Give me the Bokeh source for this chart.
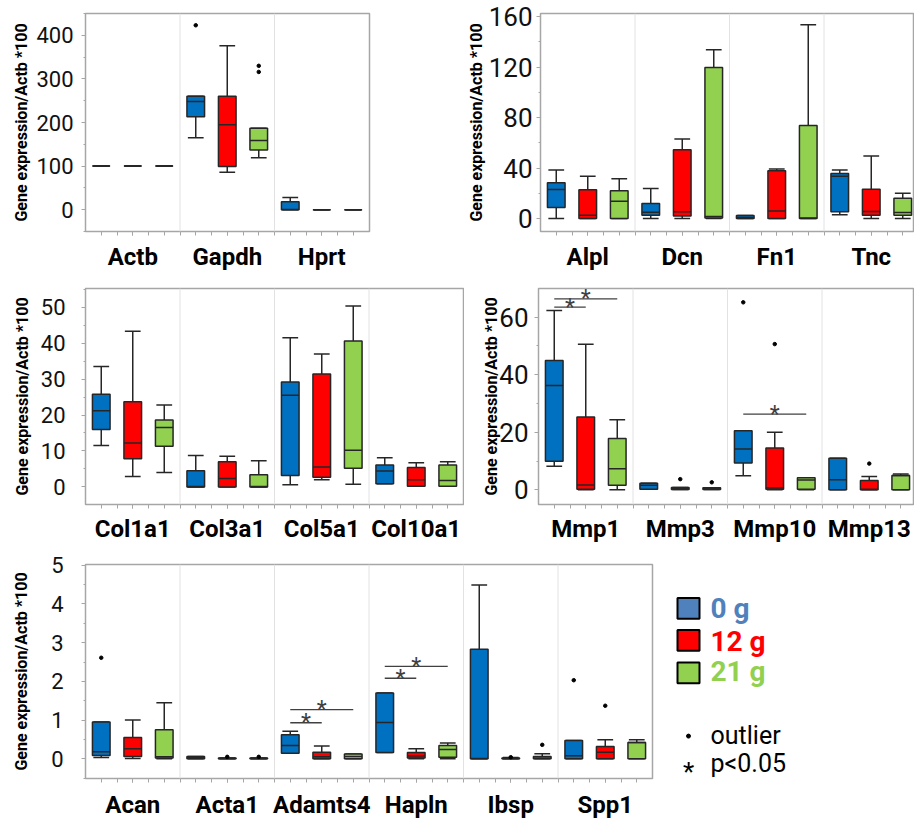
from bokeh.plotting import figure
from bokeh.models import Range1d, FixedTicker, Span, ColumnDataSource
from bokeh.layouts import row, column
from bokeh.embed import file_html
from bokeh.resources import INLINE
from bokeh.core.properties import value

FONT = "Roboto"
GROUPS = ["0 g", "12 g", "21 g"]
BOX_COLORS = ["#0070C0", "#FF0000", "#92D050"]
LEGEND_FILL = ["#4F81BD", "#FF0000", "#92D050"]
LEGEND_TEXT = ["#4F81BD", "#FF0000", "#92D050"]
Y_TITLE = "Gene expression/Actb *100"

# ---------------- panel 1 ----------------
P1_GENES = ["Actb", "Gapdh", "Hprt"]
P1_Q1 = [100, 100, 100, 213, 99, 137, 0, 0, 0]
P1_MED = [100, 100, 100, 248, 195, 159, 0.5, 0, 0]
P1_Q3 = [100, 100, 100, 260, 260, 187, 18, 0, 0]
P1_LO = [100, 100, 100, 165, 86, 119, 0, 0, 0]
P1_HI = [100, 100, 100, 260, 376, 187, 28, 0, 0]
P1_OUT_IDX = [3, 5, 5]
P1_OUT_VAL = [423, 330, 316]

# ---------------- panel 2 ----------------
P2_GENES = ["Alpl", "Dcn", "Fn1", "Tnc"]
P2_Q1 = [8.7, 0, 0, 2.6, 2.0, 0.3, 0, 0, 0, 5.3, 2.6, 2.6]
P2_MED = [23, 2.6, 13.7, 5.0, 5.3, 1.6, 0.8, 6.0, 0.3, 33.5, 5.5, 4.8]
P2_Q3 = [28.3, 22.7, 21.9, 11.9, 54.4, 119.6, 2.4, 37.8, 73.7, 35.6, 23.2, 16.1]
P2_LO = [0, 0, 0, 0, 0, 0, 0, 0, 0, 2.9, 0, 0]
P2_HI = [38.5, 33.5, 31.4, 23.8, 63.0, 133.6, 2.4, 39.3, 153.4, 38.5, 49.6, 20.0]

# ---------------- panel 3 ----------------
P3_GENES = ["Col1a1", "Col3a1", "Col5a1", "Col10a1"]
P3_Q1 = [16.0, 7.8, 11.3, 0, 0, 0, 3.2, 2.7, 5.2, 0.9, 0.2, 0.2]
P3_MED = [21.2, 12.2, 16.5, 0.1, 2.3, 0.1, 25.5, 5.5, 10.2, 4.4, 2.0, 1.8]
P3_Q3 = [25.8, 23.7, 18.6, 4.5, 7.0, 3.4, 29.2, 31.4, 40.6, 6.1, 5.4, 6.1]
P3_LO = [11.5, 2.9, 4.0, 0, 0, 0, 0.6, 2.0, 0.7, 0.9, 0.2, 0.2]
P3_HI = [33.5, 43.3, 22.8, 8.7, 8.5, 7.3, 41.5, 37.0, 50.3, 8.1, 6.7, 7.0]

# ---------------- panel 4 ----------------
P4_GENES = ["Mmp1", "Mmp3", "Mmp10", "Mmp13"]
P4_Q1 = [9.9, 0.2, 1.6, 0.2, 0.1, 0.1, 9.3, 0.2, 0.2, 0, 0, 0]
P4_MED = [36.2, 1.7, 7.3, 1.6, 0.5, 0.5, 14.2, 0.6, 3.4, 3.5, 0.2, 5.0]
P4_Q3 = [44.9, 25.3, 17.8, 2.3, 0.8, 0.7, 20.5, 14.5, 4.2, 11.0, 3.2, 5.0]
P4_LO = [8.2, 0, 0, 0.2, 0.1, 0.1, 4.9, 0, 0, 0, 0, 0]
P4_HI = [62.3, 50.5, 24.3, 2.3, 0.8, 0.7, 20.5, 20.0, 4.2, 11.0, 4.6, 5.5]
P4_OUT_IDX = [4, 5, 6, 7, 10]
P4_OUT_VAL = [3.7, 2.6, 65.1, 50.6, 9.1]
P4_SIG_FROM = [0, 0, 6]
P4_SIG_TO = [1, 2, 8]
P4_SIG_Y = [63.4, 66.3, 26.3]

# ---------------- panel 5 ----------------
P5_GENES = ["Acan", "Acta1", "Adamts4", "Hapln", "Ibsp", "Spp1"]
P5_Q1 = [0.085, 0.06, 0.02, 0, 0, 0, 0.145, 0, 0, 0.16, 0.02, 0.04, 0, 0, 0, 0, 0, 0]
P5_MED = [0.18, 0.26, 0.05, 0.03, 0.01, 0.01, 0.34, 0.05, 0.06, 0.94, 0.07, 0.24, 0.01, 0.01, 0.02, 0.08, 0.17, 0.42]
P5_Q3 = [0.95, 0.55, 0.75, 0.06, 0.02, 0.02, 0.62, 0.17, 0.12, 1.70, 0.16, 0.34, 2.83, 0.02, 0.06, 0.47, 0.32, 0.42]
P5_LO = [0.03, 0.01, 0, 0, 0, 0, 0.145, 0, 0, 0.16, 0, 0, 0, 0, 0, 0, 0, 0]
P5_HI = [0.95, 1.0, 1.45, 0.06, 0.02, 0.02, 0.71, 0.33, 0.12, 1.70, 0.26, 0.41, 4.49, 0.03, 0.13, 0.47, 0.49, 0.49]
P5_OUT_IDX = [0, 4, 5, 13, 14, 15, 16]
P5_OUT_VAL = [2.61, 0.05, 0.05, 0.04, 0.36, 2.03, 1.37]
P5_SIG_FROM = [6, 6, 9, 9]
P5_SIG_TO = [7, 8, 10, 11]
P5_SIG_Y = [0.93, 1.27, 2.08, 2.39]

UNIT_PX = 31.5
DARK = "#262626"
GRAY = "#a6a6a6"


def panel(genes, q1, med, q3, lo, hi, out_idx, out_val, yr, major, minor,
          width, height, bl, bt, bb, br, tick_fs, ystand, tstand, xstand,
          sig_from=(), sig_to=(), sig_y=()):
    n = len(q1)
    frame_w = width - bl - br
    p = figure(width=width, height=height,
               x_range=Range1d(0, frame_w / UNIT_PX), y_range=Range1d(*yr),
               toolbar_location=None, output_backend="svg",
               min_border_left=bl, min_border_right=br,
               min_border_top=bt, min_border_bottom=bb)
    p.grid.visible = False
    p.outline_line_color = GRAY
    p.outline_line_width = 1.5
    p.background_fill_color = "white"
    p.border_fill_color = "white"
    x = [i + 0.5 for i in range(n)]
    colors = [BOX_COLORS[i % 3] for i in range(n)]
    for k in range(1, len(genes)):
        p.add_layout(Span(location=3 * k, dimension="height",
                          line_color="#e2e2e2", line_width=1))
    src = ColumnDataSource(dict(
        x=x, q1=q1, med=med, q3=q3, lo=lo, hi=hi, color=colors,
        left=[v - 0.28 for v in x], right=[v + 0.28 for v in x],
        cl=[v - 0.25 for v in x], cr=[v + 0.25 for v in x]))
    kw = dict(source=src, line_color=DARK, line_width=1.5)
    p.segment(x0="x", y0="q3", x1="x", y1="hi", **kw)
    p.segment(x0="x", y0="lo", x1="x", y1="q1", **kw)
    p.segment(x0="cl", y0="hi", x1="cr", y1="hi", **kw)
    p.segment(x0="cl", y0="lo", x1="cr", y1="lo", **kw)
    p.quad(left="left", right="right", bottom="q1", top="q3",
           fill_color="color", **kw)
    p.segment(x0="left", y0="med", x1="right", y1="med", **kw)
    if out_idx:
        p.scatter(x=[x[i] for i in out_idx], y=out_val, size=3.5,
                  color="black")
    if sig_from:
        x0 = [x[i] for i in sig_from]
        x1 = [x[j] for j in sig_to]
        p.segment(x0=x0, y0=sig_y, x1=x1, y1=sig_y, line_color="#404040",
                  line_width=1.3)
        p.text(x=[(a + b) / 2 for a, b in zip(x0, x1)], y=sig_y,
               text=["*"] * len(x0), text_font=value(FONT),
               text_font_size="23px", text_align="center",
               text_baseline="middle", text_color="#404040")

    xa = p.xaxis[0]
    xa.ticker = FixedTicker(ticks=[3 * k + 1.5 for k in range(len(genes))],
                            minor_ticks=[0.5 * k for k in range(1, 2 * n)])
    xa.major_label_overrides = {3 * k + 1.5: g for k, g in enumerate(genes)}
    xa.major_label_text_font = FONT
    xa.major_label_text_font_size = "24px"
    xa.major_label_text_font_style = "bold"
    xa.major_label_text_color = "black"
    xa.major_label_standoff = xstand
    xa.major_tick_out = 4
    xa.major_tick_in = 0
    xa.minor_tick_out = 4
    xa.minor_tick_in = 0
    xa.axis_line_color = GRAY
    xa.major_tick_line_color = GRAY
    xa.minor_tick_line_color = GRAY

    ya = p.yaxis[0]
    ya.ticker = FixedTicker(ticks=major, minor_ticks=minor)
    ya.major_label_text_font = FONT
    ya.major_label_text_font_size = tick_fs
    ya.major_label_text_color = "#111111"
    ya.major_label_standoff = ystand
    ya.major_tick_out = 4
    ya.major_tick_in = 0
    ya.minor_tick_out = 2
    ya.minor_tick_in = 0
    ya.axis_line_color = GRAY
    ya.major_tick_line_color = GRAY
    ya.minor_tick_line_color = GRAY
    ya.axis_label = Y_TITLE
    ya.axis_label_text_font = FONT
    ya.axis_label_text_font_style = "bold"
    ya.axis_label_text_font_size = "16px"
    ya.axis_label_text_color = "black"
    ya.axis_label_standoff = tstand
    return p


p1 = panel(P1_GENES, P1_Q1, P1_MED, P1_Q3, P1_LO, P1_HI, P1_OUT_IDX, P1_OUT_VAL,
           (-50, 450), [0, 100, 200, 300, 400], [-50 + 50 * k for k in range(11)],
           455, 278, 85, 13, 47, 86, "22px", 8, 2, 7)
p2 = panel(P2_GENES, P2_Q1, P2_MED, P2_Q3, P2_LO, P2_HI, [], [],
           (-10.3, 162.4), [0, 40, 80, 120, 160], [20 * k for k in range(9)],
           459, 278, 85, 13, 47, 0, "26px", 4, 0, 7)
p3 = panel(P3_GENES, P3_Q1, P3_MED, P3_Q3, P3_LO, P3_HI, [], [],
           (-4.9, 55.2), [0, 10, 20, 30, 40, 50], [-5 + 5 * k for k in range(13)],
           464, 267, 85, 10, 38, 1, "22px", 16, 6, 6)
p4 = panel(P4_GENES, P4_Q1, P4_MED, P4_Q3, P4_LO, P4_HI, P4_OUT_IDX, P4_OUT_VAL,
           (-5.1, 69.9), [0, 20, 40, 60], [-10 + 10 * k for k in range(9)],
           450, 267, 74, 10, 38, 0, "26px", 6, -5, 6,
           P4_SIG_FROM, P4_SIG_TO, P4_SIG_Y)
p5 = panel(P5_GENES, P5_Q1, P5_MED, P5_Q3, P5_LO, P5_HI, P5_OUT_IDX, P5_OUT_VAL,
           (-0.51, 5.02), [0, 1, 2, 3, 4, 5], [-0.5 + 0.5 * k for k in range(12)],
           665, 276, 85, 19, 40, 13, "22px", 18, 17, 8,
           P5_SIG_FROM, P5_SIG_TO, P5_SIG_Y)

# ---------------- legend (frame aligned with panel 5's frame) ----------------
leg = figure(width=249, height=276, x_range=Range1d(665, 914),
             y_range=Range1d(781, 564), toolbar_location=None,
             output_backend="svg", title=None,
             min_border_left=0, min_border_right=0,
             min_border_top=19, min_border_bottom=40,
             x_axis_type=None, y_axis_type=None)
leg.grid.visible = False
leg.outline_line_color = None
leg.rect(x=[688] * 3, y=[608.5, 641, 674], width=22, height=21,
         fill_color=LEGEND_FILL, line_color="black", line_width=2)
leg.text(x=[710] * 3, y=[609, 642, 673], text=GROUPS, text_color=LEGEND_TEXT,
         text_font=value(FONT), text_font_size="28px",
         text_font_style="bold", text_baseline="middle")
leg.scatter(x=[688], y=[738], size=4, color="black")
leg.text(x=[710], y=[737], text=["outlier"], text_font=value(FONT),
         text_font_size="25px", text_baseline="middle", text_color="black")
leg.text(x=[688], y=[774], text=["*"], text_font=value(FONT),
         text_font_size="26px", text_align="center",
         text_baseline="middle", text_color="black")
leg.text(x=[710], y=[766], text=["p<0.05"], text_font=value(FONT),
         text_font_size="25px", text_baseline="middle", text_color="black")

layout = column(row(p1, p2), row(p3, p4), row(p5, leg))
open("out.html", "w").write(file_html(layout, INLINE))
